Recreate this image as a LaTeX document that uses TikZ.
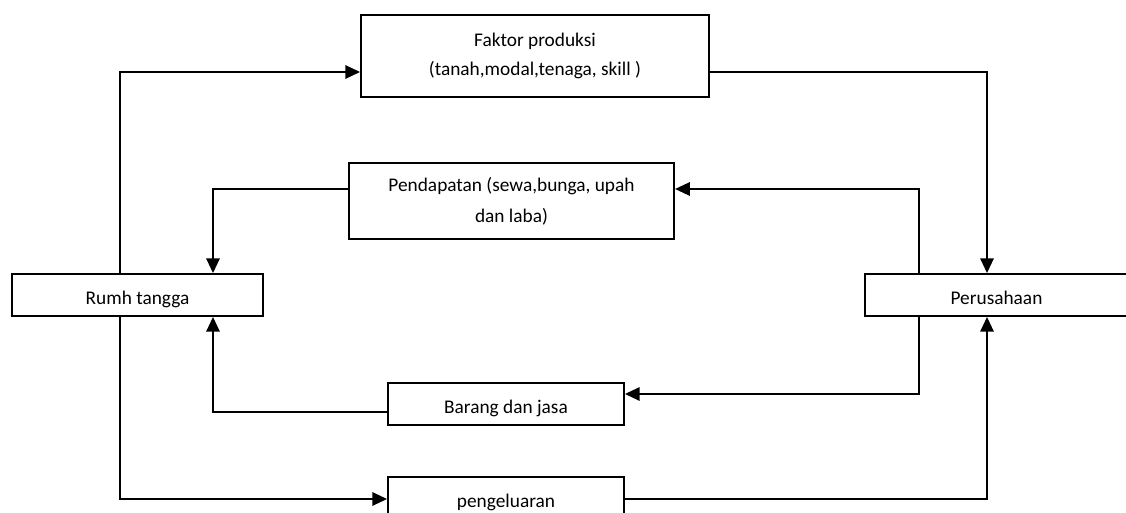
\documentclass[tikz,border=0pt]{standalone}
\usepackage{fontspec}
\setmainfont{Carlito}
\usepackage{tikz}
\usetikzlibrary{arrows.meta}

\begin{document}
\begin{tikzpicture}[
    x=0.75pt, y=-0.75pt,
    box/.style={rectangle, draw=black, line width=1.4pt, align=center, font=\fontsize{14.5}{21.5}\selectfont, inner sep=2pt},
    single/.style={text height=14pt, text depth=0pt},
    arrow/.style={-{Triangle[length=11pt, width=10pt]}, line width=1.4pt, color=black}
]
    \useasboundingbox (0,0) rectangle (1126,513);

    % Circular flow reconstruction
    \node[box, minimum width=261pt, minimum height=61.5pt] (faktor) at (535,56) {Faktor produksi\\(tanah,modal,tenaga, skill )};
    \node[box, minimum width=244pt, minimum height=57pt] (pendapatan) at (511.5,201) {Pendapatan (sewa,bunga, upah\\[1.5pt]dan laba)};
    \node[box, single, minimum width=188pt, minimum height=31.5pt] (rumah) at (137.5,295) {Rumh tangga};
    \node[box, single, minimum width=197pt, minimum height=31.5pt] (perusahaan) at (996.5,295) {Perusahaan};
    \node[box, single, minimum width=177pt, minimum height=31.5pt] (barang) at (506,404) {Barang dan jasa};
    \node[box, single, minimum width=177pt, minimum height=31.5pt] (pengeluaran) at (506,498) {pengeluaran};

    \coordinate (colA) at (120,0);
    \coordinate (colB) at (213,0);
    \coordinate (colC) at (919,0);
    \coordinate (colD) at (987,0);
    \coordinate (rowA) at (0,72);
    \coordinate (rowB) at (0,189);
    \coordinate (rowC) at (0,394);
    \coordinate (rowD) at (0,412);
    \coordinate (rowE) at (0,499);

    \draw[arrow] (rumah.north -| colA) |- (faktor.west |- rowA);
    \draw[arrow] (faktor.east |- rowA) -| (perusahaan.north -| colD);
    \draw[arrow] (perusahaan.north -| colC) |- (pendapatan.east |- rowB);
    \draw[arrow] (pendapatan.west |- rowB) -| (rumah.north -| colB);
    \draw[arrow] (perusahaan.south -| colC) |- (barang.east |- rowC);
    \draw[arrow] (barang.west |- rowD) -| (rumah.south -| colB);
    \draw[arrow] (rumah.south -| colA) |- (pengeluaran.west |- rowE);
    \draw[arrow] (pengeluaran.east |- rowE) -| (perusahaan.south -| colD);
\end{tikzpicture}
\end{document}
